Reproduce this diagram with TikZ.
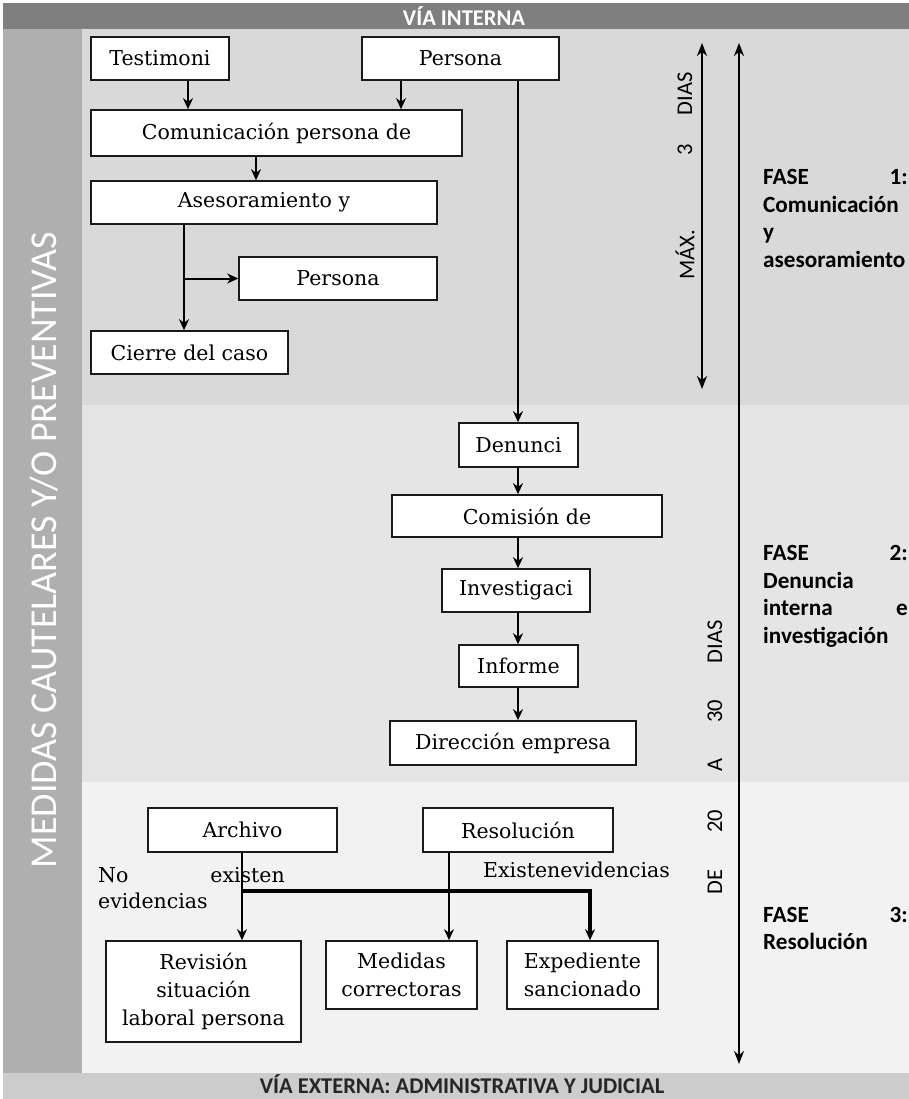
\documentclass[tikz,border=0pt]{standalone}
\usepackage{fontspec}
\setmainfont{DejaVu Serif}
\newfontfamily\calib{Carlito}
\usetikzlibrary{arrows.meta,calc}
\definecolor{topbar}{HTML}{7F7F7F}
\definecolor{leftbar}{HTML}{AFAFAF}
\definecolor{phaseA}{HTML}{D9D9D9}
\definecolor{phaseB}{HTML}{E5E5E5}
\definecolor{phaseC}{HTML}{F2F2F2}
\definecolor{botbar}{HTML}{CCCCCC}
\definecolor{boxline}{HTML}{1A1A1A}
\begin{document}
\begin{tikzpicture}[x=1pt,y=-1pt,
  box/.style={draw=boxline, line width=1.6pt, fill=white, inner sep=0pt, align=center,
    font=\fontsize{20.5}{28}\selectfont},
  arr/.style={line width=2pt, -{Stealth[length=11pt,width=10pt]}},
  thickarr/.style={line width=3.2pt, -{Stealth[length=11pt,width=10pt]}},
  darr/.style={line width=2.2pt, {Stealth[length=13pt,width=10pt]}-{Stealth[length=13pt,width=10pt]}},
  phasetxt/.style={font=\calib\bfseries\fontsize{23.2}{27}\selectfont, inner sep=0pt},
  daytxt/.style={font=\calib\fontsize{22.5}{22}\selectfont, rotate=90, inner sep=0pt},
  lbl/.style={font=\fontsize{20.5}{28}\selectfont, inner sep=0pt},
  bartxt/.style={font=\calib\bfseries\fontsize{22.5}{22.5}\selectfont, inner sep=0pt}
]
\useasboundingbox (0,0) rectangle (909,1099);
\fill[white] (0,0) rectangle (909,1099);
% backgrounds
\fill[topbar] (3,3) rectangle (909,29);
\fill[leftbar] (3,29) rectangle (82,1073);
\fill[phaseA] (82,29) rectangle (909,405);
\fill[phaseB] (82,405) rectangle (909,782);
\fill[phaseC] (82,782) rectangle (909,1073);
\fill[botbar] (3,1073) rectangle (909,1099);

\node[bartxt, text=white] (vint) at (464,16) {VÍA INTERNA};
\node[bartxt, text=black!85, anchor=base] (vext) at (462,1093) {VÍA EXTERNA: ADMINISTRATIVA Y JUDICIAL};
\node[rotate=90, text=white, inner sep=0pt, font=\calib\fontsize{38}{38}\selectfont] (med) at (44,550) {MEDIDAS CAUTELARES Y/O PREVENTIVAS};

% boxes phase 1
\node[box, minimum width=138pt, minimum height=43pt] (test) at (160,58.5) {Testimoni};
\node[box, minimum width=197pt, minimum height=43pt] (pers1) at (460.5,58.5) {Persona};
\node[box, minimum width=371pt, minimum height=46pt] (comu) at (276.5,133) {Comunicación persona de};
\node[box, minimum width=346pt, minimum height=43pt] (ases) at (264,202.5) {Asesoramiento y};
\node[box, minimum width=198pt, minimum height=43pt] (pers2) at (338,278.5) {Persona};
\node[box, minimum width=197pt, minimum height=43pt] (cier) at (189.5,352.5) {Cierre del caso};
% phase 2
\node[box, minimum width=119pt, minimum height=44pt] (denu) at (518.5,445) {Denunci};
\node[box, minimum width=270pt, minimum height=42pt] (comi) at (527,516) {Comisión de};
\node[box, minimum width=148pt, minimum height=43pt] (inve) at (516,590.5) {Investigaci};
\node[box, minimum width=119pt, minimum height=42pt] (info) at (518.5,666) {Informe};
\node[box, minimum width=246pt, minimum height=44pt] (dire) at (513,743) {Dirección empresa};
% phase 3
\node[box, minimum width=189pt, minimum height=44pt] (arch) at (242.5,830) {Archivo};
\node[box, minimum width=190pt, minimum height=44pt] (reso) at (518,830) {Resolución};
\node[box, minimum width=195pt, minimum height=101pt] (revi) at (203.5,991.5) {Revisión\\situación\\laboral persona};
\node[box, minimum width=151pt, minimum height=68pt] (medi) at (401.5,975) {Medidas\\correctoras};
\node[box, minimum width=151pt, minimum height=68pt] (expe) at (582.5,975) {Expediente\\sancionado};

% x positions of connectors
\coordinate (xa) at (188,0);
\coordinate (xb) at (401,0);
\coordinate (xc) at (256,0);
\coordinate (xe) at (184,0);
\coordinate (xd) at (518,0);
\coordinate (xf) at (242,0);
\coordinate (xg) at (449,0);
\coordinate (xh) at (590,0);
\coordinate (br) at (184,278.5);
\coordinate (j1) at (242,891);
\coordinate (j2) at (590,891);

% connectors phase 1
\draw[arr] (test.south -| xa) -- (comu.north -| xa);
\draw[arr] (pers1.south -| xb) -- (comu.north -| xb);
\draw[arr] (comu.south -| xc) -- (ases.north -| xc);
\draw[arr] (ases.south -| xe) -- (cier.north -| xe);
\draw[arr] (br) -- (pers2.west);
\draw[arr] (pers1.south -| xd) -- (denu.north -| xd);
% phase 2
\draw[arr] (denu.south -| xd) -- (comi.north -| xd);
\draw[arr] (comi.south -| xd) -- (inve.north -| xd);
\draw[arr] (inve.south -| xd) -- (info.north -| xd);
\draw[arr] (info.south -| xd) -- (dire.north -| xd);
% phase 3
\draw[arr] (arch.south -| xf) -- (revi.north -| xf);
\draw[arr] (reso.south -| xg) -- (medi.north -| xg);
\draw[thickarr] (j1) -- (j2) -- (expe.north -| xh);

\node[lbl, anchor=base west] (no) at (98,882) {No};
\node[lbl, anchor=base east] (exi) at (285,882) {existen};
\node[lbl, anchor=base west] (evi) at (98,908) {evidencias};
\node[lbl, anchor=base west] (exev) at (483,877) {Existenevidencias};

% time arrows
\coordinate (d1t) at (702,43);
\coordinate (d1b) at (702,389);
\coordinate (d2t) at (739,43);
\coordinate (d2b) at (739,1064);
\draw[darr] (d1t) -- (d1b);
\draw[darr] (d2t) -- (d2b);

\node[daytxt] (t1a) at (685,94) {DIAS};
\node[daytxt] (t1b) at (685,150) {3};
\node[daytxt] (t1c) at (685,255) {MÁX.};
\node[daytxt] (t2a) at (715,642) {DIAS};
\node[daytxt] (t2b) at (715,711) {30};
\node[daytxt] (t2c) at (715,765) {A};
\node[daytxt] (t2d) at (715,821) {20};
\node[daytxt] (t2e) at (715,882) {DE};

% phase texts
\node[phasetxt, anchor=base west] (f1a) at (763,185) {FASE};
\node[phasetxt, anchor=base east] (f1b) at (908,185) {1:};
\node[phasetxt, anchor=base west] (f1c) at (763,212.5) {Comunicación};
\node[phasetxt, anchor=base west] (f1d) at (763,240) {y};
\node[phasetxt, anchor=base west] (f1e) at (763,267.5) {asesoramiento};

\node[phasetxt, anchor=base west] (f2a) at (763,560) {FASE};
\node[phasetxt, anchor=base east] (f2b) at (908,560) {2:};
\node[phasetxt, anchor=base west] (f2c) at (763,588) {Denuncia};
\node[phasetxt, anchor=base west] (f2d) at (763,615.5) {interna};
\node[phasetxt, anchor=base east] (f2e) at (908,615.5) {e};
\node[phasetxt, anchor=base west] (f2f) at (763,643) {investigación};

\node[phasetxt, anchor=base west] (f3a) at (763,922) {FASE};
\node[phasetxt, anchor=base east] (f3b) at (908,922) {3:};
\node[phasetxt, anchor=base west] (f3c) at (763,949) {Resolución};
\end{tikzpicture}
\end{document}
